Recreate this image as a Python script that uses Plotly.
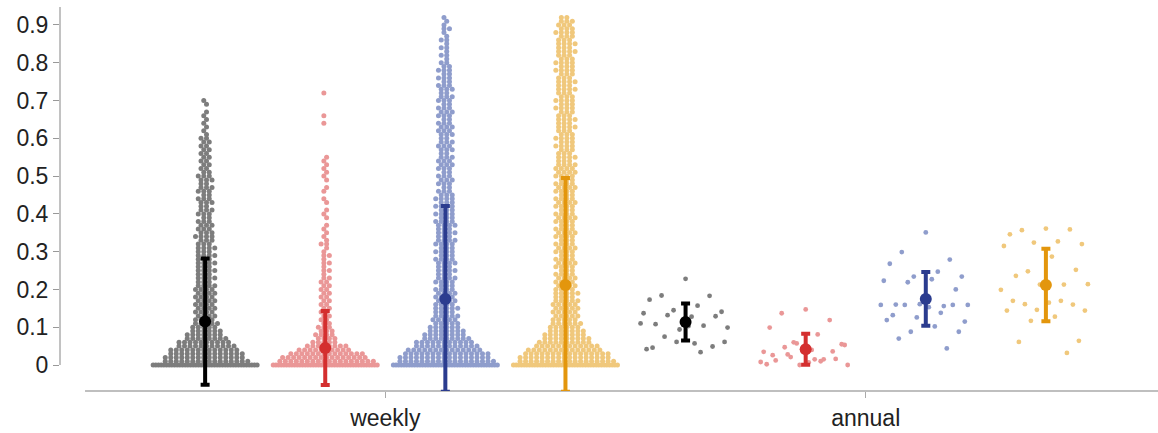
import plotly.graph_objects as go

# ---------------- data ----------------
categories = ["weekly", "annual"]
y_ticks = [0, 0.1, 0.2, 0.3, 0.4, 0.5, 0.6, 0.7, 0.8, 0.9]
y_tick_text = ["0", "0.1", "0.2", "0.3", "0.4", "0.5", "0.6", "0.7", "0.8", "0.9"]

BIN = 0.01  # weekly values are given as counts per 0.01-wide value bin, starting at 0

weekly_counts_gray = [40, 16, 15, 14, 13, 11, 10, 8, 7, 6, 5, 5,
                      4, 4, 4, 4, 4, 4, 4, 4, 4,
                      4, 3, 4, 3, 4, 3, 4, 3, 4, 3, 4, 3, 3, 4, 3, 3, 3,
                      3, 2, 3, 3, 2, 3, 3, 2, 3, 3, 2, 3, 3, 2,
                      2, 2, 2, 2, 2, 2, 2, 2, 2,
                      1, 1, 1, 1, 1, 1, 1,
                      0, 1, 1]
weekly_counts_red = [40, 18, 16, 14, 10, 8, 5, 4, 4, 3, 3, 2, 2,
                     2, 2, 2, 2, 2, 2, 2, 2, 2, 2,
                     2, 1, 2, 1, 2, 1, 2, 1, 1, 2, 1, 1, 1,
                     1, 1, 0, 1, 1, 1, 0, 1, 1, 0, 1, 1, 0, 1, 1,
                     1, 1, 1, 1, 1,
                     0, 0, 0, 0, 0, 0, 0, 0,
                     1, 0, 1, 0, 0, 0, 0, 0, 1]
weekly_counts_blue = [40, 18, 17, 16, 14, 12, 11, 9, 8, 7, 6, 5, 5,
                      5, 4, 5, 4, 4, 4, 4,
                      4, 3, 4, 4, 3, 4, 3, 4, 4, 3, 4, 3, 4, 4, 3, 4, 3, 4, 4, 3, 4, 3, 4, 3, 4,
                      3, 3, 2, 3, 3, 3, 2, 3, 3, 3, 3, 2, 3, 3, 3, 2, 3, 3, 3, 3, 2, 3, 3, 3, 2,
                      3, 3, 2, 3, 3, 2, 3, 2, 3, 2,
                      2, 1, 2, 1, 2, 1, 2, 1, 1, 2, 1, 1, 1]
weekly_counts_yellow = [40, 18, 17, 16, 14, 12, 10, 9, 8, 7, 6, 6, 5,
                        5, 5, 5, 5, 5, 4, 5, 4, 4, 4,
                        4, 4, 3, 4, 4, 4, 3, 4, 4, 4, 3, 4, 4, 4, 3, 4, 4, 4, 3, 4, 4, 4, 3, 4, 4, 4,
                        3, 4, 4, 4,
                        4, 3, 4, 3, 3, 4, 3, 4, 3, 3, 4, 3, 4, 3, 3, 4, 3, 4, 3, 3, 4, 3, 4, 3, 3,
                        4, 3, 4, 3, 3, 4, 3, 4, 3, 3, 4, 3, 3,
                        3, 2]

annual_gray = [0.228, 0.184, 0.183, 0.173, 0.157, 0.145, 0.141, 0.137, 0.128, 0.132,
               0.129, 0.108, 0.104, 0.094, 0.099, 0.110, 0.103, 0.075, 0.049, 0.046,
               0.034, 0.061, 0.061, 0.042, 0.057]
annual_red = [0.147, 0.137, 0.119, 0.099, 0.081, 0.060, 0.055, 0.035, 0.040, 0.028,
              0.016, 0.012, 0.015, 0.000, 0.000, 0.008, 0.007, 0.047, 0.036, 0.026,
              0.010, 0.057, 0.053, 0.002, 0.015, 0.021]
annual_blue = [0.351, 0.299, 0.279, 0.268, 0.247, 0.234, 0.234, 0.223, 0.227, 0.219,
               0.200, 0.160, 0.156, 0.161, 0.159, 0.159, 0.153, 0.159, 0.159, 0.132,
               0.138, 0.126, 0.115, 0.119, 0.102, 0.088, 0.088, 0.070, 0.044]
annual_yellow = [0.361, 0.357, 0.359, 0.346, 0.327, 0.324, 0.320, 0.315, 0.287, 0.248,
                 0.252, 0.236, 0.213, 0.213, 0.214, 0.199, 0.165, 0.161, 0.160, 0.170,
                 0.170, 0.146, 0.144, 0.144, 0.128, 0.117, 0.064, 0.061, 0.032]

weekly_mean = [0.115, 0.045, 0.175, 0.212]
weekly_sd = [0.167, 0.098, 0.246, 0.283]
annual_mean = [0.114, 0.042, 0.175, 0.212]
annual_sd = [0.049, 0.041, 0.071, 0.096]

# ---------------- style ----------------
point_colors = ["#7d7d7d", "#ea9797", "#8f9dcc", "#f0c87c"]
mean_colors = ["#000000", "#d42f2f", "#2b3c8f", "#e3960d"]
FONT = "Helvetica, Liberation Sans, Arial, sans-serif"

W, H = 1158, 433
M_L, M_R, M_T, M_B = 60, 0, 7, 42
X_RANGE = [-1.2083, 7.9333]
Y_RANGE = [-0.0688, 0.9476]
plot_w = W - M_L - M_R
ux = (X_RANGE[1] - X_RANGE[0]) / plot_w  # x data units per pixel

POINT_STEP_PX = 5.5
MAX_HALF_PX = 52.0


def swarm(counts, center):
    xs, ys = [], []
    for b, n in enumerate(counts):
        if n <= 0:
            continue
        step = POINT_STEP_PX
        stagger = ((b % 2) - 0.5) * step / 2
        if n > 1 and (n - 1) * step / 2 > MAX_HALF_PX:
            step = 2 * MAX_HALF_PX / (n - 1)
            stagger = 0
        for k in range(n):
            xs.append(center + ((k - (n - 1) / 2) * step + stagger) * ux)
            ys.append(round(b * BIN, 4))
    return xs, ys


def vdc(i, base=2):
    v, denom = 0.0, 1.0
    while i:
        i, r = divmod(i, base)
        denom *= base
        v += r / denom
    return v


def jitter(values, center, half_px=48):
    return [center + (vdc(i + 1) - 0.5) * 2 * half_px * ux for i in range(len(values))]


weekly = [weekly_counts_gray, weekly_counts_red, weekly_counts_blue, weekly_counts_yellow]
annual = [annual_gray, annual_red, annual_blue, annual_yellow]

fig = go.Figure()

for g in range(4):
    xs, ys = swarm(weekly[g], g)
    fig.add_trace(go.Scatter(x=xs, y=ys, mode="markers", hoverinfo="skip",
                             marker=dict(size=5, color=point_colors[g], line=dict(width=0))))
for g in range(4):
    c = 4 + g
    fig.add_trace(go.Scatter(x=jitter(annual[g], c), y=annual[g], mode="markers", hoverinfo="skip",
                             marker=dict(size=4.8, color=point_colors[g], line=dict(width=0))))

for g in range(4):
    for pos, m, sd in ((g, weekly_mean[g], weekly_sd[g]), (4 + g, annual_mean[g], annual_sd[g])):
        fig.add_trace(go.Scatter(
            x=[pos], y=[m], mode="markers",
            marker=dict(size=12, color=mean_colors[g], line=dict(width=0)),
            error_y=dict(type="data", array=[sd], symmetric=True, color=mean_colors[g],
                         thickness=4, width=4.5),
        ))

axis_col = "#aaaaaa"
fig.add_shape(type="line", xref="x", yref="paper", x0=-1, x1=X_RANGE[1], y0=0, y1=0,
              line=dict(color=axis_col, width=1.5), layer="below")
fig.add_shape(type="line", xref="paper", yref="y", x0=0, x1=0, y0=0, y1=Y_RANGE[1],
              line=dict(color="#999999", width=1.2), layer="below")

fig.update_layout(
    width=W, height=H,
    margin=dict(l=M_L, r=M_R, t=M_T, b=M_B),
    paper_bgcolor="white", plot_bgcolor="white",
    showlegend=False,
    font=dict(family=FONT, size=23, color="#222222"),
    xaxis=dict(range=X_RANGE, showgrid=False, zeroline=False, showline=False,
               tickvals=[1.5, 5.5], ticktext=categories, ticks="outside", ticklen=6,
               tickcolor=axis_col, tickwidth=1, tickfont=dict(size=23, color="#222222")),
    yaxis=dict(range=Y_RANGE, showgrid=False, zeroline=False, showline=False,
               tickvals=y_ticks, ticktext=y_tick_text, ticks="outside", ticklen=6,
               tickcolor="#999999", tickwidth=1, tickfont=dict(size=23, color="#222222")),
)

fig.write_html("out.html")
